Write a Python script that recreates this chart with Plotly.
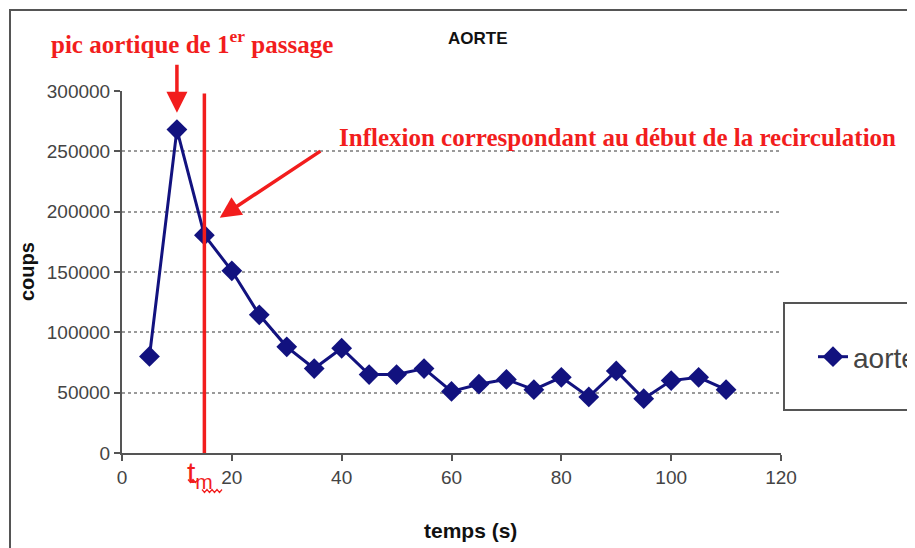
import plotly.graph_objects as go

# --- data -------------------------------------------------------------
temps = [5, 10, 15, 20, 25, 30, 35, 40, 45, 50, 55, 60, 65, 70, 75, 80, 85, 90, 95, 100, 105, 110]
coups = [80000, 268000, 180500, 151000, 114500, 88000, 70000, 86800, 65000, 65000, 70000,
         51000, 57000, 61000, 52500, 62700, 46500, 68000, 45000, 60000, 62700, 52500]
series_name = "aorte"
chart_title = "AORTE"
x_title = "temps (s)"
y_title = "coups"
x_ticks = [0, 20, 40, 60, 80, 100, 120]
y_ticks = [0, 50000, 100000, 150000, 200000, 250000, 300000]
t_m = 15

OFF = 8                       # page body margin
W, H = 915 - OFF, 548 - OFF
L, R, T, B = 122 - OFF, 781 - OFF, 91 - OFF, 453 - OFF   # plot area (figure px)

def px_x(p):
    return (p - OFF - L) / (R - L)

def px_y(p):
    return (B - (p - OFF)) / (B - T)

NAVY = "#12127f"
RED = "#f21d1d"
AX = "#555555"

fig = go.Figure()
fig.add_trace(go.Scatter(
    x=temps, y=coups, name=series_name, mode="lines+markers",
    line=dict(color=NAVY, width=3),
    marker=dict(symbol="diamond", size=16, color=NAVY),
))

serif = "Liberation Serif"

fig.update_layout(
    width=W, height=H,
    margin=dict(l=L, r=W - R, t=T, b=H - B, autoexpand=False),
    paper_bgcolor="white", plot_bgcolor="white",
    font=dict(family="Liberation Sans, Arial", color="#444444"),
    showlegend=True,
    legend=dict(x=px_x(813), xanchor="left", y=px_y(357), yanchor="middle",
                font=dict(size=28, color="#444444"), bgcolor="rgba(0,0,0,0)",
                borderwidth=0),
    xaxis=dict(range=[0, 120], tickvals=x_ticks, showgrid=False, zeroline=False,
               showline=True, linecolor=AX, linewidth=2, ticks="outside",
               ticklen=6, tickwidth=2, tickcolor=AX,
               tickfont=dict(size=19, color="#444444")),
    yaxis=dict(range=[0, 300000], tickvals=y_ticks, tickformat="d",
               showgrid=True, gridcolor="#9a9a9a", griddash="dot", gridwidth=1.5,
               zeroline=False, showline=True, linecolor=AX, linewidth=2,
               ticks="outside", ticklen=6, tickwidth=2, tickcolor=AX,
               tickfont=dict(size=19, color="#444444")),
)

# outer chart border (extends off the canvas on the right and bottom)
fig.add_shape(type="rect", xref="paper", yref="paper",
              x0=px_x(10), x1=px_x(940), y0=px_y(570), y1=px_y(10),
              line=dict(color="#555555", width=2), layer="below")
# legend box
fig.add_shape(type="rect", xref="paper", yref="paper",
              x0=px_x(784), x1=px_x(940), y0=px_y(410), y1=px_y(303),
              line=dict(color="#555555", width=2))
# t_m vertical line
fig.add_shape(type="line", xref="x", yref="y", x0=t_m, x1=t_m, y0=0, y1=298000,
              line=dict(color=RED, width=3.5))

# spell-check style wavy underlines under "t" and "m"
def zigzag(x0, x1, y, step=2.5, amp=1.5):
    pts = []
    x = x0
    up = True
    while x <= x1:
        pts.append((px_x(x), px_y(y - amp if up else y + amp)))
        x += step
        up = not up
    return "M " + " L ".join(f"{a:.5f},{b:.5f}" for a, b in pts)

for (a, b, yy) in [(188, 198, 481), (202, 222, 491)]:
    fig.add_shape(type="path", xref="paper", yref="paper", path=zigzag(a, b, yy),
                  line=dict(color=RED, width=1.2))

annotations = [
    dict(text="<b>" + chart_title + "</b>", xref="paper", yref="paper",
         x=px_x(478), xanchor="center", y=px_y(39), yanchor="middle", showarrow=False,
         font=dict(size=17, color="#111111", family="Liberation Sans, Arial")),
    dict(text="<b>" + x_title + "</b>", xref="paper", yref="paper",
         x=px_x(470), xanchor="center", y=px_y(530), yanchor="middle", showarrow=False,
         font=dict(size=21, color="#111111", family="Liberation Sans, Arial")),
    dict(text="<b>" + y_title + "</b>", xref="paper", yref="paper",
         x=px_x(27), xanchor="center", y=px_y(272), yanchor="middle", showarrow=False,
         textangle=-90,
         font=dict(size=20, color="#111111", family="Liberation Sans, Arial")),
    dict(text="<b>pic aortique de 1<sup>er</sup> passage</b>", xref="paper", yref="paper",
         x=px_x(192), xanchor="center", y=px_y(42), yanchor="middle", showarrow=False,
         font=dict(size=25, color=RED, family=serif)),
    dict(text="<b>Inflexion correspondant au début de la recirculation</b>",
         xref="paper", yref="paper", x=px_x(337), xanchor="left", y=px_y(137),
         yanchor="middle", showarrow=False, font=dict(size=25, color=RED, family=serif)),
    dict(text="t<sub>m</sub>", xref="paper", yref="paper", x=px_x(185), xanchor="left",
         y=px_y(474), yanchor="middle", showarrow=False,
         font=dict(size=30, color=RED, family="Liberation Sans, Arial")),
    # arrows
    dict(x=10, y=282000, ax=10, ay=323000, xref="x", yref="y", axref="x", ayref="y",
         text="", showarrow=True, arrowhead=2, arrowsize=1.2, arrowwidth=3.5,
         arrowcolor=RED),
    dict(x=17.8, y=195000, ax=36.4, ay=251000, xref="x", yref="y", axref="x", ayref="y",
         text="", showarrow=True, arrowhead=2, arrowsize=1.2, arrowwidth=3.5,
         arrowcolor=RED),
]
fig.update_layout(annotations=annotations)

fig.write_html("out.html")
